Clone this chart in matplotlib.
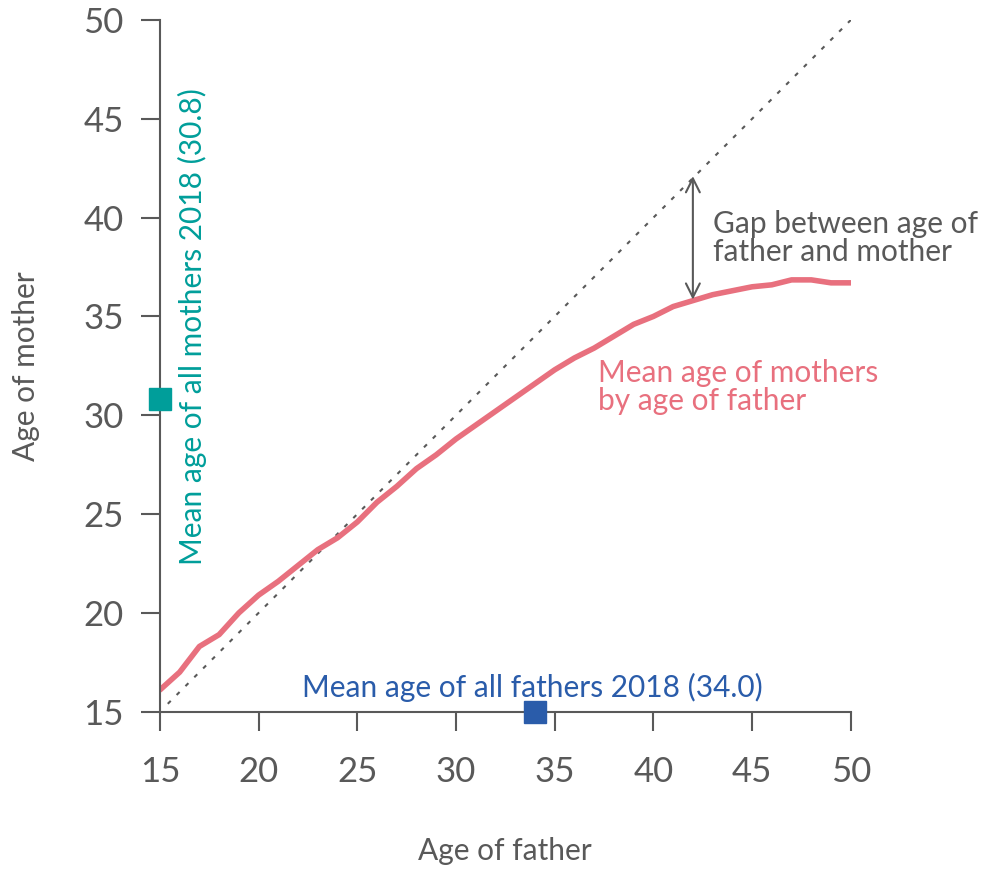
import matplotlib.pyplot as plt

plt.rcParams['font.family'] = ['Lato', 'DejaVu Sans']

# mean age of mothers by age of father
father_age = list(range(15, 51))
mother_age = [16.1, 17.0, 18.3, 18.9, 20.0, 20.9, 21.6, 22.4, 23.2, 23.8,
              24.6, 25.6, 26.4, 27.3, 28.0, 28.8, 29.5, 30.2, 30.9, 31.6,
              32.3, 32.9, 33.4, 34.0, 34.6, 35.0, 35.5, 35.8, 36.1, 36.3,
              36.5, 36.6, 36.85, 36.85, 36.7, 36.7]

mean_mothers = 30.8
mean_fathers = 34.0
gap_age = 42
ticks = [15, 20, 25, 30, 35, 40, 45, 50]

grey = "#595959"
red = "#e8707e"
teal = "#009e9a"
blue = "#2a5caa"

fig = plt.figure(figsize=(9.87, 8.69), dpi=100)
ax = fig.add_axes([0.162, 0.181, 0.700, 0.796])

# equal-age reference line
ax.plot([15.4, 50], [15.4, 50], linestyle=(0, (2, 4)), color=grey, lw=1.5)

# mothers line
ax.plot(father_age, mother_age, color=red, lw=4, solid_capstyle="round")

# overall means as squares on the axes
ax.plot(15, mean_mothers, "s", color=teal, ms=16, clip_on=False, zorder=5)
ax.plot(mean_fathers, 15, "s", color=blue, ms=16, clip_on=False, zorder=5)

# gap arrow
ax.annotate("", xy=(gap_age, 35.85), xytext=(gap_age, 42.1),
            arrowprops=dict(arrowstyle="<->", color=grey, lw=1.5,
                            mutation_scale=25, shrinkA=0, shrinkB=0))

# labels
ax.text(43.0, 38.95, "Gap between age of\nfather and mother",
        color=grey, fontsize=21.5, va="center", ha="left", linespacing=1.0)
ax.text(37.2, 31.45, "Mean age of mothers\nby age of father",
        color=red, fontsize=21.5, va="center", ha="left", linespacing=1.0)
ax.text(16.65, 22.4, "Mean age of all mothers 2018 (30.8)", color=teal,
        fontsize=21.5, rotation=90, ha="center", va="bottom")
ax.text(22.2, 16.25, "Mean age of all fathers 2018 (34.0)", color=blue,
        fontsize=21.5, ha="left", va="center")

ax.set_xlim(15, 50)
ax.set_ylim(15, 50)
ax.set_xticks(ticks)
ax.set_yticks(ticks)

ax.spines["top"].set_visible(False)
ax.spines["right"].set_visible(False)
ax.spines["left"].set_color(grey)
ax.spines["bottom"].set_color(grey)
ax.spines["left"].set_linewidth(1.5)
ax.spines["bottom"].set_linewidth(1.5)
ax.tick_params(colors=grey, labelsize=25, length=14, width=1.5, pad=18)
ax.tick_params(axis="y", pad=12)

ax.set_xlabel("Age of father", fontsize=21.5, color=grey, va="center")
ax.set_ylabel("Age of mother", fontsize=21.5, color=grey, va="center")
ax.xaxis.set_label_coords(0.5, -0.202)
ax.yaxis.set_label_coords(-0.194, 0.5)

plt.savefig("out.png", dpi=100)
